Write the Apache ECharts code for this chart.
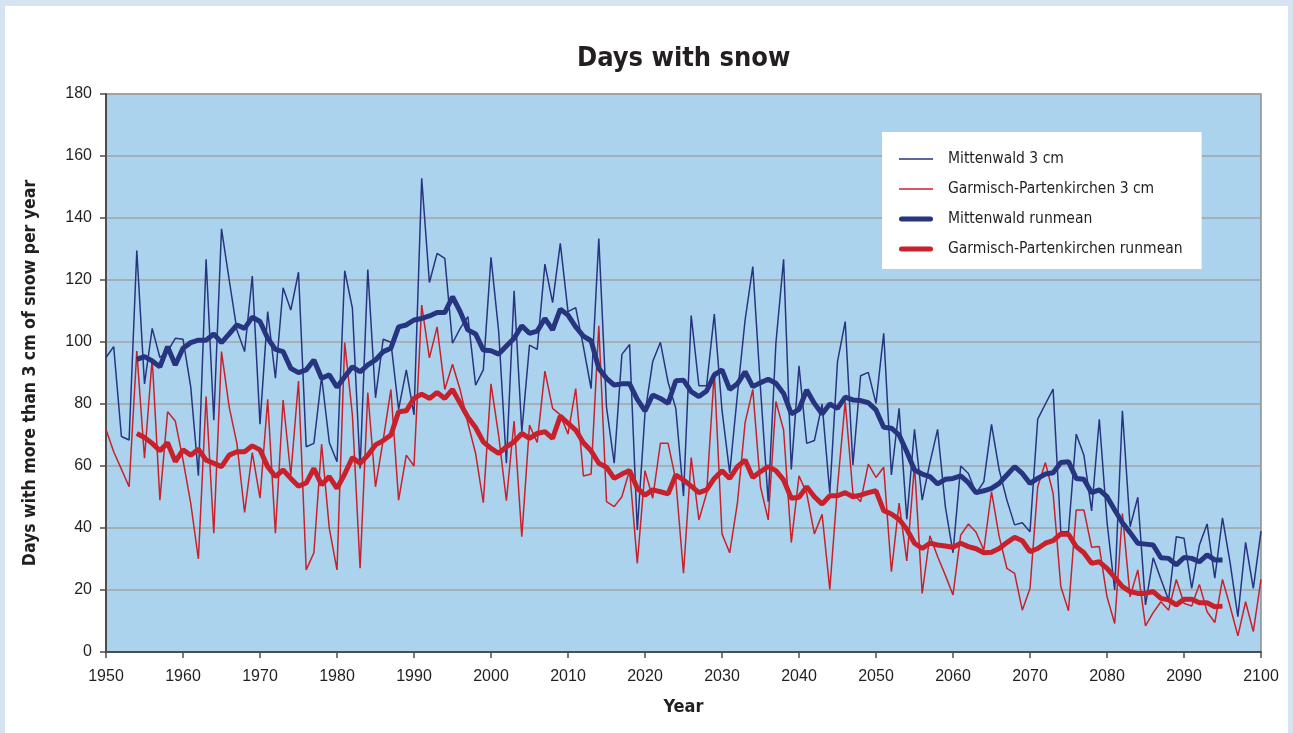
<!DOCTYPE html>
<html>
<head>
<meta charset="utf-8">
<script src="https://cdn.jsdelivr.net/npm/echarts@6/dist/echarts.min.js"></script>
<style>
html,body{margin:0;padding:0;background:#d6e4f2;}
#chart{width:1293px;height:733px;}
</style>
</head>
<body>
<div id="chart"></div>
<script>
// ---- data ----
const firstYear = 1950;
const runmeanFirstYear = 1954;

const mittenwald3cm = [
  95,98.5,69.5,68.4,129.5,86.5,104.4,95,97,101.2,
  100.9,85.6,56.9,126.7,74.8,136.5,120,103.9,96.9,121.3,
  73.5,109.8,88.3,117.5,110.3,122.5,66.2,67.3,88.8,67.6,
  61.4,123,110.9,59.2,123.4,82,100.9,99.9,78.3,91,
  76.5,152.8,119.2,128.6,127,99.6,104.4,108.2,86.1,91,
  127.3,103.3,60.9,116.5,71.1,99,97.6,125.1,112.7,131.8,
  109.8,111.1,98.5,85,133.4,79,60.9,96,99.2,39.4,
  77,93.7,99.9,87,78.6,50.3,108.5,85.9,85.9,109,
  78,57.8,83,107.1,124.3,85,48.5,99.6,126.7,58.9,
  92.3,67.3,68.2,80,51.2,93.7,106.6,60.3,89.1,90.2,
  80.2,102.8,57.1,78.6,42.8,71.8,49,61,71.8,47,
  32,60,57.6,51.2,54.9,73.4,58.7,49,41,41.7,
  38.8,75.1,80,84.8,38.8,38.8,70.3,63.5,45.5,75.1,
  42,20,77.8,40.4,49.9,15.2,30.4,23.5,16.8,37.2,
  36.7,20.5,34.5,41.3,23.8,43.3,28.6,11.4,35.4,20.5,
  39
];
const garmisch3cm = [
  71.8,64.6,59,53.3,97.1,62.5,94.7,49,77.5,74.5,
  62,48,30,82.4,38.3,96.9,79,67.3,45,64.3,
  49.6,81.5,38.3,81.3,57.1,87.4,26.5,32,67.1,39.9,
  26.5,99.8,76.5,27,83.7,53.3,68.4,84.7,49,63.5,
  60,111.9,94.9,104.9,84.7,92.8,84.5,73.8,64.1,48.2,
  86.5,69.7,48.8,74.5,37.2,73.2,67.6,90.6,78.6,76.5,
  70.3,85,56.8,57.4,105.2,48.5,46.9,50.1,58.7,28.6,
  58.5,49.6,67.3,67.3,55.5,25.4,62.7,42.6,51.2,90.4,
  38.1,32,48,74,84.7,53.3,42.6,80.8,71.6,35.3,
  56.8,51.2,38.1,44.4,20.2,53.3,80.8,51.2,48.5,60.6,
  56.3,59.6,25.9,48,29.4,60.3,18.9,37.5,30.8,24.8,
  18.4,37.7,41.3,38.6,32.9,51.7,37.2,27,25.4,13.5,
  20.5,53.3,61.1,51.2,21.1,13.3,45.8,45.8,33.8,34,
  17.8,9.2,44.7,17.8,26.5,8.4,12.7,16.2,13.5,23.4,
  15.7,14.8,21.8,13,9.5,23.4,14.6,5.2,16.2,6.6,
  23.4
];
const mittenwaldRunmean = [
  94.4,95.3,93.9,92,98.5,92.6,
  98,99.8,100.6,100.6,102.6,99.8,102.6,105.5,104.4,108,
  106.6,101.2,97.6,96.9,91.5,90.1,91,94.2,88.3,89.4,
  85.4,88.8,92,90.4,92.6,94.2,96.9,98,104.9,105.5,
  107.1,107.6,108.4,109.5,109.5,114.6,109.8,103.9,102.6,97.4,
  97.2,96.1,98.7,101.2,105.2,102.8,103.5,107.6,103.9,110.6,
  108.7,104.9,101.9,100.4,91.5,88.3,86.1,86.5,86.5,81.5,
  77.8,82.9,81.8,80.2,87.5,87.7,84,82.4,84.2,89.4,
  91,84.7,86.5,90.4,85.6,86.9,88,86.7,83.4,76.8,
  78.3,84.5,80.2,76.8,80,78.6,82.2,81.3,81.1,80.4,
  78.1,72.5,72.2,70,64.6,58.7,57.4,56.6,54.2,55.7,
  56,56.8,54.6,51.4,52,52.8,54.4,57.1,59.8,57.6,
  54.4,56,57.4,57.8,61.1,61.4,56,55.7,51.4,52.3,
  50.1,45.8,41.7,38.5,35.1,34.8,34.5,30.4,30.2,28.1,
  30.5,30.2,29.1,31.3,29.7,29.7
];
const garmischRunmean = [
  70.5,69.2,67.3,64.9,67.5,61.4,
  65.2,63.5,65.4,61.9,60.9,59.8,63.5,64.6,64.6,66.5,
  65.2,59.8,56.6,58.7,56,53.5,54.5,59.2,53.9,56.6,
  52.8,57.4,62.7,60.9,63.5,66.8,68.2,70,77.5,77.8,
  81.8,83.2,81.8,83.7,81.8,84.7,80.2,75.7,72.4,67.8,
  65.7,64.1,66.2,67.8,70.5,68.9,70.5,71.1,68.9,76.1,
  73.8,71.6,67.5,64.9,60.9,59.6,56,57.4,58.5,52.8,
  50.6,52.3,51.7,51,57.1,55.5,53.5,51.4,52.3,56,
  58.5,56,59.8,61.9,56.3,58.2,59.8,58.5,55.5,49.6,
  49.9,53.3,50.1,47.7,50.4,50.4,51.4,50.1,50.6,51.4,
  52,45.6,44.5,42.8,39.6,35.1,33.4,35.1,34.5,34.2,
  33.8,35.1,34,33.3,32,32.2,33.4,35.3,37,35.9,
  32.4,33.4,35.1,35.9,38.1,38,34,32,28.6,29.1,
  27,24.1,21.1,19.5,18.9,18.9,19.5,17.3,16.8,15.2,
  17,17,15.9,15.9,14.6,14.8
];

function pairs(startYear, values){
  return values.map((v,i)=>[startYear+i, v]);
}

const COND = '"DejaVu Sans Condensed","DejaVu Sans",sans-serif';
const NUM = '"Liberation Sans",Arial,sans-serif';
const BLUE = '#27347f';
const RED = '#c9212b';
const THIN_ICON = 'path://M0,0H34V1.6H0Z';
const THICK_ICON = 'path://M2.5,0H31.5A2.5,2.5,0,0,1,31.5,5H2.5A2.5,2.5,0,0,1,2.5,0Z';

const chart = echarts.init(document.getElementById('chart'), null, {renderer:'canvas'});
chart.setOption({
  backgroundColor: '#d6e4f2',
  animation: false,
  graphic: [{
    type: 'rect', z: -10, silent: true,
    shape: {x: 5, y: 6, width: 1283, height: 740},
    style: {fill: '#ffffff'}
  }],
  title: {
    text: 'Days with snow',
    left: 572, top: 40,
    textStyle: {fontFamily: COND, fontSize: 27, fontWeight: 'bold', color: '#231f20'}
  },
  grid: {
    left: 106, right: 32, top: 94, bottom: 81,
    show: true, backgroundColor: '#acd3ee', borderColor: '#8c8c8c', borderWidth: 1.5
  },
  legend: {
    left: 882, top: 132,
    orient: 'vertical',
    backgroundColor: '#ffffff',
    padding: [19, 19, 12, 17],
    itemWidth: 34, itemHeight: 14, itemGap: 14,
    symbolKeepAspect: true,
    textStyle: {fontFamily: COND, fontSize: 15.5, color: '#231f20', padding: [0,0,0,10]},
    data: [
      {name: 'Mittenwald 3 cm', icon: THIN_ICON},
      {name: 'Garmisch-Partenkirchen 3 cm', icon: THIN_ICON},
      {name: 'Mittenwald runmean', icon: THICK_ICON},
      {name: 'Garmisch-Partenkirchen runmean', icon: THICK_ICON}
    ]
  },
  xAxis: {
    type: 'value', min: 1950, max: 2100, interval: 10,
    name: 'Year', nameLocation: 'middle', nameGap: 46,
    nameTextStyle: {fontFamily: COND, fontSize: 18, fontWeight: 'bold', color: '#231f20'},
    axisLine: {show: true, lineStyle: {color: '#4d4d4d', width: 2}},
    axisTick: {show: true, length: 6, lineStyle: {color: '#4d4d4d', width: 1.5}},
    axisLabel: {fontFamily: NUM, fontSize: 16, color: '#231f20', margin: 17,
      formatter: v => String(v)},
    splitLine: {show: false}
  },
  yAxis: {
    type: 'value', min: 0, max: 180, interval: 20,
    name: 'Days with more than 3 cm of snow per year', nameLocation: 'middle', nameGap: 67,
    nameTextStyle: {fontFamily: COND, fontSize: 17.5, fontWeight: 'bold', color: '#231f20'},
    axisLine: {show: true, lineStyle: {color: '#4d4d4d', width: 2}},
    axisTick: {show: true, length: 6, lineStyle: {color: '#4d4d4d', width: 1.5}},
    axisLabel: {fontFamily: NUM, fontSize: 16, color: '#231f20', margin: 14},
    splitLine: {show: true, lineStyle: {color: '#a3a3a3', width: 1.5}}
  },
  series: [
    {name: 'Mittenwald 3 cm', type: 'line', data: pairs(firstYear, mittenwald3cm),
      symbol: 'none', lineStyle: {color: BLUE, width: 1.5}, itemStyle: {color: BLUE}, z: 2},
    {name: 'Garmisch-Partenkirchen 3 cm', type: 'line', data: pairs(firstYear, garmisch3cm),
      symbol: 'none', lineStyle: {color: RED, width: 1.5}, itemStyle: {color: RED}, z: 2},
    {name: 'Mittenwald runmean', type: 'line', data: pairs(runmeanFirstYear, mittenwaldRunmean),
      symbol: 'none', lineStyle: {color: BLUE, width: 5}, itemStyle: {color: BLUE}, z: 3},
    {name: 'Garmisch-Partenkirchen runmean', type: 'line', data: pairs(runmeanFirstYear, garmischRunmean),
      symbol: 'none', lineStyle: {color: RED, width: 5}, itemStyle: {color: RED}, z: 3}
  ]
});
</script>
</body>
</html>
